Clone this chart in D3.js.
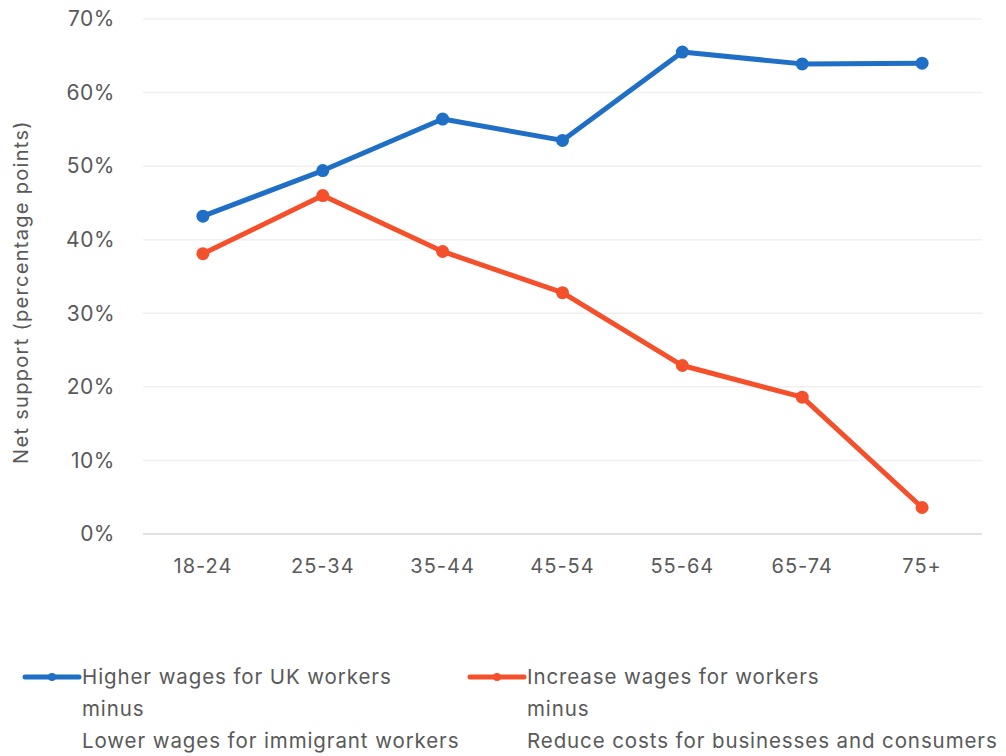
<!DOCTYPE html>
<html>
<head>
<meta charset="utf-8">
<script src="https://cdn.jsdelivr.net/npm/d3@7/dist/d3.min.js"></script>
<style>
  html, body { margin: 0; padding: 0; background: #fff; }
  svg { display: block; font-family: "Inter", "Open Sans", sans-serif; }
</style>
</head>
<body>
<svg id="chart" width="1006" height="756"></svg>
<script>
// Age groups along the x axis
const ageGroups = ["18-24", "25-34", "35-44", "45-54", "55-64", "65-74", "75+"];

// Net support, percentage points
const ukWorkersNet = [43.2, 49.4, 56.4, 53.5, 65.5, 63.9, 64.0];
const costsNet = [38.1, 46.0, 38.4, 32.8, 22.9, 18.6, 3.6];

const yTicks = [0, 10, 20, 30, 40, 50, 60, 70];

const seriesNames = [
  ["Higher wages for UK workers", "minus", "Lower wages for immigrant workers"],
  ["Increase wages for workers", "minus", "Reduce costs for businesses and consumers"]
];
const seriesColors = ["#1f6fc6", "#f4502b"];

const svg = d3.select("#chart");
const plotLeft = 143, plotRight = 982, plotTop = 19, plotBottom = 534;

const x = d3.scaleBand().domain(ageGroups).range([plotLeft, plotRight]);
const y = d3.scaleLinear().domain([0, 70]).range([plotBottom, plotTop]);

const textColor = "#595959";

// Gridlines
svg.append("g")
  .selectAll("line")
  .data(yTicks)
  .join("line")
  .attr("x1", plotLeft).attr("x2", plotRight)
  .attr("y1", d => y(d)).attr("y2", d => y(d))
  .attr("stroke", d => d === 0 ? "#d9d9d9" : "#f0f0f0")
  .attr("stroke-width", 1.5);

// Y axis labels
const yAxis = svg.append("g")
  .attr("transform", `translate(${plotLeft},0)`)
  .call(d3.axisLeft(y).tickValues(yTicks).tickFormat(d => d + "%").tickSize(0).tickPadding(28));
yAxis.select(".domain").remove();
yAxis.selectAll("text")
  .attr("fill", textColor)
  .style("font-size", "21px")
  .style("letter-spacing", "0.5px")
  .style("font-family", "Inter, 'Open Sans', sans-serif");

// X axis labels
const xAxis = svg.append("g")
  .attr("transform", `translate(0,${plotBottom})`)
  .call(d3.axisBottom(x).tickSize(0).tickPadding(25));
xAxis.select(".domain").remove();
xAxis.selectAll("text")
  .attr("fill", textColor)
  .style("font-size", "20px")
  .style("letter-spacing", "1px")
  .style("font-family", "Inter, 'Open Sans', sans-serif");

// Y axis title
svg.append("text")
  .attr("transform", "translate(28,292) rotate(-90)")
  .attr("text-anchor", "middle")
  .attr("fill", textColor)
  .style("font-size", "20px")
  .style("letter-spacing", "1.3px")
  .text("Net support (percentage points)");

// Lines and markers
const line = d3.line()
  .x((d, i) => x(ageGroups[i]) + x.bandwidth() / 2)
  .y(d => y(d));

[ukWorkersNet, costsNet].forEach((vals, k) => {
  const g = svg.append("g");
  g.append("path")
    .datum(vals)
    .attr("d", line)
    .attr("fill", "none")
    .attr("stroke", seriesColors[k])
    .attr("stroke-width", 5)
    .attr("stroke-linejoin", "round");
  g.selectAll("circle")
    .data(vals)
    .join("circle")
    .attr("cx", (d, i) => x(ageGroups[i]) + x.bandwidth() / 2)
    .attr("cy", d => y(d))
    .attr("r", 6.5)
    .attr("fill", seriesColors[k]);
});

// Legend
const legendX = [25, 470];
seriesNames.forEach((lines, k) => {
  const g = svg.append("g").attr("transform", `translate(${legendX[k]},677)`);
  g.append("line")
    .attr("x1", 0).attr("x2", 54)
    .attr("y1", 0).attr("y2", 0)
    .attr("stroke", seriesColors[k])
    .attr("stroke-width", 5)
    .attr("stroke-linecap", "round");
  g.append("circle").attr("cx", 27).attr("cy", 0).attr("r", 4).attr("fill", seriesColors[k]);
  lines.forEach((t, j) => {
    g.append("text")
      .attr("x", 57)
      .attr("y", j * 32 + 7)
      .attr("fill", textColor)
      .style("font-size", "20.5px")
      .style("letter-spacing", "0.9px")
      .text(t);
  });
});
</script>
</body>
</html>
